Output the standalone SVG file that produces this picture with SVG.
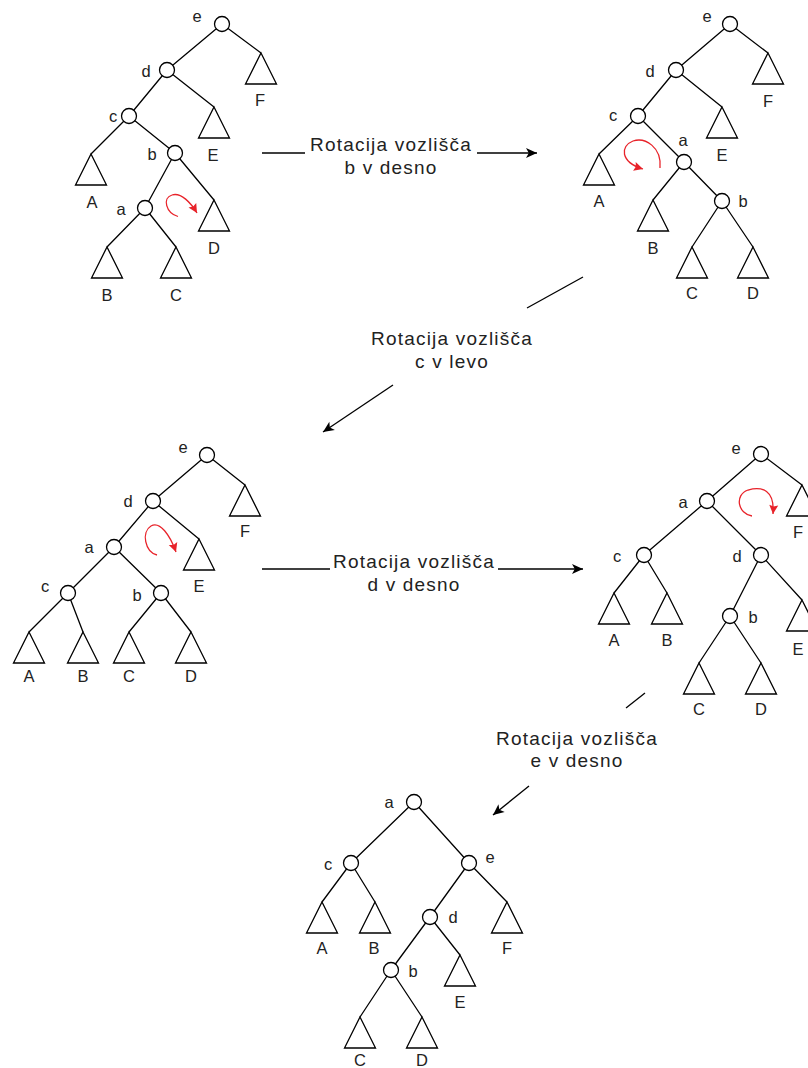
<svg xmlns="http://www.w3.org/2000/svg" xmlns:xlink="http://www.w3.org/1999/xlink" width="808" height="1068" viewBox="0 0 808 1068">
  <style>
    .edge { stroke: #000; stroke-width: 1.3; fill: none; }
    .arrow { stroke: #000; stroke-width: 1.3; fill: none; marker-end: url(#ah); }
    .rot { stroke: #e8232a; stroke-width: 1.3; fill: none; marker-end: url(#ahRed); }
    .node { fill: #fff; stroke: #000; stroke-width: 1.3; }
    .tri { fill: #fff; stroke: #000; stroke-width: 1.3; stroke-linejoin: miter; }
    .lbl { font-family: "Liberation Sans", Arial, sans-serif; font-size: 16.5px; fill: #222; text-anchor: middle; }
    .cap { font-family: "Liberation Sans", Arial, sans-serif; font-size: 19px; letter-spacing: 1.2px; fill: #222; text-anchor: middle; }
  </style>
  <defs>
    <!-- subtree triangle, apex at origin -->
    <path id="tri" d="M0,0 L15.5,31 L-15.5,31 Z"/>
    <marker id="ah" markerUnits="userSpaceOnUse" markerWidth="14" markerHeight="12" refX="11" refY="5" orient="auto" overflow="visible">
      <path d="M0,0 L11,5 L0,10 L2.8,5 Z" fill="#000"/>
    </marker>
    <marker id="ahRed" markerUnits="userSpaceOnUse" markerWidth="12" markerHeight="12" refX="9" refY="4.5" orient="auto" overflow="visible">
      <path d="M0,0 L9,4.5 L0,9 L1.5,4.5 Z" fill="#e8232a"/>
    </marker>
  </defs>

  <!-- tree edges and transition arrows -->
  <g id="connectors">
    <!-- tree 1 -->
    <path class="edge" d="M222,24 L167,70 M222,24 L261,53 M167,70 L129,116 M167,70 L214,107 M129,116 L91,154 M129,116 L175,153 M175,153 L145,208 M175,153 L214,200 M145,208 L107,247 M145,208 L176,247"/>
    <!-- tree 2 -->
    <path class="edge" d="M730,24 L676,70 M730,24 L768,53 M676,70 L638,116 M676,70 L722,107 M638,116 L599,154 M638,116 L684,162 M684,162 L653,200 M684,162 L722,201 M722,201 L692,247 M722,201 L753,247"/>
    <!-- tree 3 -->
    <path class="edge" d="M207,455 L153,501 M207,455 L245,485 M153,501 L114,547 M153,501 L199,539 M114,547 L68,593 M114,547 L161,593 M68,593 L29,632 M68,593 L83,632 M161,593 L129,632 M161,593 L191,632"/>
    <!-- tree 4 -->
    <path class="edge" d="M761,454 L707,501 M761,454 L802,485 M707,501 L644,555 M707,501 L761,555 M644,555 L614,593 M644,555 L667,593 M761,555 L730,616 M761,555 L802,600 M730,616 L699,663 M730,616 L761,663"/>
    <!-- tree 5 -->
    <path class="edge" d="M414,802 L351,863 M414,802 L469,863 M351,863 L322,902 M351,863 L375,902 M469,863 L430,917 M469,863 L507,902 M430,917 L391,970 M430,917 L460,955 M391,970 L360,1017 M391,970 L422,1017"/>

    <!-- step 1 -->
    <g id="step1">
      <line class="edge" x1="262" y1="153" x2="305" y2="153"/>
      <line class="arrow" x1="477" y1="153" x2="537" y2="153"/>
      <text class="cap" x="391" y="151">Rotacija vozlišča</text>
      <text class="cap" x="391" y="174">b v desno</text>
    </g>
    <!-- step 2 -->
    <g id="step2">
      <line class="edge" x1="583" y1="277" x2="527" y2="308"/>
      <line class="arrow" x1="393" y1="385" x2="323" y2="432"/>
      <text class="cap" x="452" y="345">Rotacija vozlišča</text>
      <text class="cap" x="452" y="368">c v levo</text>
    </g>
    <!-- step 3 -->
    <g id="step3">
      <line class="edge" x1="262" y1="569" x2="330" y2="569"/>
      <line class="arrow" x1="498" y1="569" x2="583" y2="569"/>
      <text class="cap" x="414" y="568">Rotacija vozlišča</text>
      <text class="cap" x="414" y="591">d v desno</text>
    </g>
    <!-- step 4 -->
    <g id="step4">
      <line class="edge" x1="645" y1="693" x2="626" y2="708"/>
      <line class="arrow" x1="529" y1="786" x2="493" y2="815"/>
      <text class="cap" x="577" y="745">Rotacija vozlišča</text>
      <text class="cap" x="577" y="767">e v desno</text>
    </g>
  </g>

  <!-- rotation direction marks -->
  <g id="rotations">
    <path class="rot" d="M178,216.5 C166,213 162,198 172,195 C181,192 191,203 197,213"/>
    <path class="rot" d="M660,168 C662,147 645,137 633,141 C620,146 620,162 643,169"/>
    <path class="rot" d="M157,555 C145,552 141,532 151,526 C160,521 170,535 176,552"/>
    <path class="rot" d="M752,516 C738,514 734,495 748,490 C762,486 775,490 773,514"/>
  </g>

  <!-- tree 1 -->
  <g id="t1">
    <g id="t1-e"><circle class="node" cx="222" cy="24" r="7.5"/><text class="lbl" x="197" y="22">e</text></g>
    <g id="t1-d"><circle class="node" cx="167" cy="70" r="7.5"/><text class="lbl" x="146" y="77">d</text></g>
    <g id="t1-c"><circle class="node" cx="129" cy="116" r="7.5"/><text class="lbl" x="113" y="122">c</text></g>
    <g id="t1-b"><circle class="node" cx="175" cy="153" r="7.5"/><text class="lbl" x="152" y="160">b</text></g>
    <g id="t1-a"><circle class="node" cx="145" cy="208" r="7.5"/><text class="lbl" x="121" y="215">a</text></g>
    <g id="t1-F"><use href="#tri" class="tri" x="261" y="53"/><text class="lbl" x="260" y="106">F</text></g>
    <g id="t1-E"><use href="#tri" class="tri" x="214" y="107"/><text class="lbl" x="213" y="161">E</text></g>
    <g id="t1-A"><use href="#tri" class="tri" x="91" y="154"/><text class="lbl" x="92" y="208">A</text></g>
    <g id="t1-D"><use href="#tri" class="tri" x="214" y="200"/><text class="lbl" x="214" y="254">D</text></g>
    <g id="t1-B"><use href="#tri" class="tri" x="107" y="247"/><text class="lbl" x="107" y="301">B</text></g>
    <g id="t1-C"><use href="#tri" class="tri" x="176" y="247"/><text class="lbl" x="176" y="301">C</text></g>
  </g>

  <!-- tree 2 -->
  <g id="t2">
    <g id="t2-e"><circle class="node" cx="730" cy="24" r="7.5"/><text class="lbl" x="707" y="22">e</text></g>
    <g id="t2-d"><circle class="node" cx="676" cy="70" r="7.5"/><text class="lbl" x="650" y="77">d</text></g>
    <g id="t2-c"><circle class="node" cx="638" cy="116" r="7.5"/><text class="lbl" x="613" y="121">c</text></g>
    <g id="t2-a"><circle class="node" cx="684" cy="162" r="7.5"/><text class="lbl" x="683" y="146">a</text></g>
    <g id="t2-b"><circle class="node" cx="722" cy="201" r="7.5"/><text class="lbl" x="743" y="207">b</text></g>
    <g id="t2-F"><use href="#tri" class="tri" x="768" y="53"/><text class="lbl" x="768" y="107">F</text></g>
    <g id="t2-E"><use href="#tri" class="tri" x="722" y="107"/><text class="lbl" x="722" y="161">E</text></g>
    <g id="t2-A"><use href="#tri" class="tri" x="599" y="154"/><text class="lbl" x="599" y="207">A</text></g>
    <g id="t2-B"><use href="#tri" class="tri" x="653" y="200"/><text class="lbl" x="653" y="254">B</text></g>
    <g id="t2-C"><use href="#tri" class="tri" x="692" y="247"/><text class="lbl" x="692" y="299">C</text></g>
    <g id="t2-D"><use href="#tri" class="tri" x="753" y="247"/><text class="lbl" x="753" y="299">D</text></g>
  </g>

  <!-- tree 3 -->
  <g id="t3">
    <g id="t3-e"><circle class="node" cx="207" cy="455" r="7.5"/><text class="lbl" x="183" y="453">e</text></g>
    <g id="t3-d"><circle class="node" cx="153" cy="501" r="7.5"/><text class="lbl" x="128" y="507">d</text></g>
    <g id="t3-a"><circle class="node" cx="114" cy="547" r="7.5"/><text class="lbl" x="89" y="553">a</text></g>
    <g id="t3-c"><circle class="node" cx="68" cy="593" r="7.5"/><text class="lbl" x="45" y="592">c</text></g>
    <g id="t3-b"><circle class="node" cx="161" cy="593" r="7.5"/><text class="lbl" x="137" y="601">b</text></g>
    <g id="t3-F"><use href="#tri" class="tri" x="245" y="485"/><text class="lbl" x="245" y="537">F</text></g>
    <g id="t3-E"><use href="#tri" class="tri" x="199" y="539"/><text class="lbl" x="199" y="592">E</text></g>
    <g id="t3-A"><use href="#tri" class="tri" x="29" y="632"/><text class="lbl" x="29" y="682">A</text></g>
    <g id="t3-B"><use href="#tri" class="tri" x="83" y="632"/><text class="lbl" x="83" y="682">B</text></g>
    <g id="t3-C"><use href="#tri" class="tri" x="129" y="632"/><text class="lbl" x="129" y="682">C</text></g>
    <g id="t3-D"><use href="#tri" class="tri" x="191" y="632"/><text class="lbl" x="191" y="682">D</text></g>
  </g>

  <!-- tree 4 -->
  <g id="t4">
    <g id="t4-e"><circle class="node" cx="761" cy="454" r="7.5"/><text class="lbl" x="736" y="454">e</text></g>
    <g id="t4-a"><circle class="node" cx="707" cy="501" r="7.5"/><text class="lbl" x="683" y="508">a</text></g>
    <g id="t4-c"><circle class="node" cx="644" cy="555" r="7.5"/><text class="lbl" x="617" y="562">c</text></g>
    <g id="t4-d"><circle class="node" cx="761" cy="555" r="7.5"/><text class="lbl" x="737" y="562">d</text></g>
    <g id="t4-b"><circle class="node" cx="730" cy="616" r="7.5"/><text class="lbl" x="753" y="623">b</text></g>
    <g id="t4-F"><use href="#tri" class="tri" x="802" y="485"/><text class="lbl" x="798" y="538">F</text></g>
    <g id="t4-E"><use href="#tri" class="tri" x="802" y="600"/><text class="lbl" x="798" y="655">E</text></g>
    <g id="t4-A"><use href="#tri" class="tri" x="614" y="593"/><text class="lbl" x="614" y="646">A</text></g>
    <g id="t4-B"><use href="#tri" class="tri" x="667" y="593"/><text class="lbl" x="667" y="646">B</text></g>
    <g id="t4-C"><use href="#tri" class="tri" x="699" y="663"/><text class="lbl" x="699" y="715">C</text></g>
    <g id="t4-D"><use href="#tri" class="tri" x="761" y="663"/><text class="lbl" x="761" y="715">D</text></g>
  </g>

  <!-- tree 5 -->
  <g id="t5">
    <g id="t5-a"><circle class="node" cx="414" cy="802" r="7.5"/><text class="lbl" x="389" y="808">a</text></g>
    <g id="t5-c"><circle class="node" cx="351" cy="863" r="7.5"/><text class="lbl" x="328" y="870">c</text></g>
    <g id="t5-e"><circle class="node" cx="469" cy="863" r="7.5"/><text class="lbl" x="490" y="863">e</text></g>
    <g id="t5-d"><circle class="node" cx="430" cy="917" r="7.5"/><text class="lbl" x="453" y="923">d</text></g>
    <g id="t5-b"><circle class="node" cx="391" cy="970" r="7.5"/><text class="lbl" x="413" y="977">b</text></g>
    <g id="t5-A"><use href="#tri" class="tri" x="322" y="902"/><text class="lbl" x="322" y="954">A</text></g>
    <g id="t5-B"><use href="#tri" class="tri" x="375" y="902"/><text class="lbl" x="374" y="954">B</text></g>
    <g id="t5-F"><use href="#tri" class="tri" x="507" y="902"/><text class="lbl" x="507" y="954">F</text></g>
    <g id="t5-E"><use href="#tri" class="tri" x="460" y="955"/><text class="lbl" x="460" y="1008">E</text></g>
    <g id="t5-C"><use href="#tri" class="tri" x="360" y="1017"/><text class="lbl" x="360" y="1066">C</text></g>
    <g id="t5-D"><use href="#tri" class="tri" x="422" y="1017"/><text class="lbl" x="422" y="1066">D</text></g>
  </g>
</svg>
